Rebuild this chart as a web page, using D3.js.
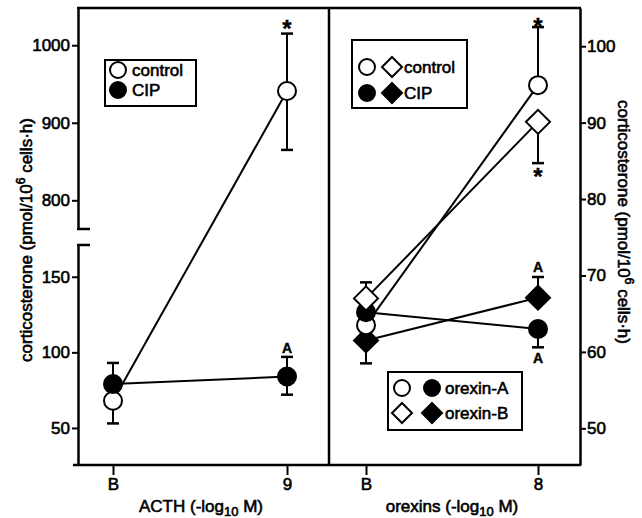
<!DOCTYPE html>
<html><head><meta charset="utf-8">
<script src="https://cdn.jsdelivr.net/npm/d3@7"></script>
<style>
body{margin:0;background:#fff;}
svg text{font-family:"Liberation Sans",Arial,sans-serif;fill:#000;}
</style></head>
<body><svg id="c" width="642" height="518"></svg>
<script>
// ---------- data ----------
const leftCats = ["B", "9"];
const rightCats = ["B", "8"];
const upperTicks = [800, 900, 1000];
const lowerTicks = [50, 100, 150];
const rightTicks = [50, 60, 70, 80, 90, 100];

// ACTH panel
const acthControl   = [68, 941];
const acthControlLo = [53, 865];
const acthControlHi = [null, 1015];
const acthCIP   = [79, 84];
const acthCIPLo = [null, 72];
const acthCIPHi = [93, 97];

// orexins panel
const oxAControl   = [63.5, 94.9];
const oxAControlLo = [null, null];
const oxAControlHi = [null, 102.5];
const oxBControl   = [67.0, 90.1];
const oxBControlLo = [null, 84.7];
const oxBControlHi = [69.1, null];
const oxACIP   = [65.2, 63.0];
const oxACIPLo = [null, 60.6];
const oxACIPHi = [null, null];
const oxBCIP   = [61.5, 67.1];
const oxBCIPLo = [58.5, null];
const oxBCIPHi = [null, 69.8];

// ---------- layout ----------
const svg = d3.select("#c");
const L = 78, MID = 329, R = 580, T = 8, B = 465;
const SW = 0.6; // text thickening (scanned look)

const xL = d3.scalePoint().domain(leftCats).range([113, 287]);
const xR = d3.scalePoint().domain(rightCats).range([366, 538]);
const yUp = d3.scaleLinear().domain([763, 1048]).range([229, T]);
const yLow = d3.scaleLinear().domain([25.5, 171]).range([B, 245]);
const yLeft = v => v > 500 ? yUp(v) : yLow(v);
const yR = d3.scaleLinear().domain([45.2, 105]).range([B, T]);

const FS = 17;
function styleAxis(g){
  g.selectAll("text").style("font-size", FS + "px").style("font-family", '"Liberation Sans",Arial,sans-serif')
   .attr("stroke", "#000").attr("stroke-width", SW);
  g.selectAll("line").attr("stroke-width", 2);
  g.selectAll("path.domain").attr("stroke-width", 2.5);
}
const fmt = d3.format("d");

// left axes (broken)
svg.append("g").attr("transform", `translate(${L},0)`)
  .call(d3.axisLeft(yUp).tickValues(upperTicks).tickFormat(fmt).tickSize(6).tickSizeOuter(0).tickPadding(2))
  .call(styleAxis);
svg.append("g").attr("transform", `translate(${L},0)`)
  .call(d3.axisLeft(yLow).tickValues(lowerTicks).tickFormat(fmt).tickSize(6).tickSizeOuter(0).tickPadding(2))
  .call(styleAxis);
// break marks
svg.append("line").attr("x1", L - 1).attr("x2", L + 12).attr("y1", 229).attr("y2", 229).attr("stroke", "#000").attr("stroke-width", 2.5);
svg.append("line").attr("x1", L - 1).attr("x2", L + 12).attr("y1", 245).attr("y2", 245).attr("stroke", "#000").attr("stroke-width", 2.5);

// right axis
svg.append("g").attr("transform", `translate(${R},0)`)
  .call(d3.axisRight(yR).tickValues(rightTicks).tickFormat(fmt).tickSize(6).tickSizeOuter(0).tickPadding(1))
  .call(styleAxis);

// bottom axes
const gxl = svg.append("g").attr("transform", `translate(0,${B})`)
  .call(d3.axisBottom(xL).tickSize(10).tickSizeOuter(0).tickPadding(3));
gxl.select("path.domain").remove();
styleAxis(gxl);
const gxr = svg.append("g").attr("transform", `translate(0,${B})`)
  .call(d3.axisBottom(xR).tickSize(10).tickSizeOuter(0).tickPadding(3));
gxr.select("path.domain").remove();
styleAxis(gxr);

// frame
const frame = svg.append("g").attr("stroke", "#000").attr("stroke-width", 2.5).attr("fill", "none");
frame.append("line").attr("x1", L - 1).attr("x2", R + 1).attr("y1", T).attr("y2", T);
frame.append("line").attr("x1", 73).attr("x2", R + 1).attr("y1", B).attr("y2", B);
frame.append("line").attr("x1", MID).attr("x2", MID).attr("y1", T).attr("y2", B);

// axis titles
function addTitle(x, y, rot, base){
  const t = svg.append("text").attr("transform", `translate(${x},${y}) rotate(${rot})`)
    .attr("text-anchor", "middle").style("font-size", FS + "px")
    .attr("stroke", "#000").attr("stroke-width", SW);
  base(t);
}
addTitle(32, 240, -90, t => {
  t.append("tspan").text("corticosterone (pmol/10");
  t.append("tspan").attr("dy", -7).style("font-size", "12px").text("6");
  t.append("tspan").attr("dy", 7).text(" cells·h)");
});
addTitle(618, 222, 90, t => {
  t.append("tspan").text("corticosterone (pmol/10");
  t.append("tspan").attr("dy", -7).style("font-size", "12px").text("6");
  t.append("tspan").attr("dy", 7).text(" cells·h)");
});
function xTitle(x, label){
  const t = svg.append("text").attr("x", x).attr("y", 512).attr("text-anchor", "middle")
    .style("font-size", FS + "px").attr("stroke", "#000").attr("stroke-width", SW);
  t.append("tspan").text(label + " (-log");
  t.append("tspan").attr("dy", 4).style("font-size", "13px").text("10");
  t.append("tspan").attr("dy", -4).text(" M)");
}
xTitle(201, "ACTH");
xTitle(452, "orexins");

// ---------- series ----------
const lineG = svg.append("g"), errG = svg.append("g"), markG = svg.append("g");
const R_CIRC = 9, R_DIA = 12;
function drawSeries(cats, vals, lo, hi, x, y, shape, filled){
  const pts = cats.map((c, i) => [x(c), y(vals[i])]);
  lineG.append("path").attr("d", d3.line()(pts)).attr("fill", "none").attr("stroke", "#000").attr("stroke-width", 2);
  cats.forEach((c, i) => {
    [lo[i], hi[i]].forEach(e => {
      if (e == null) return;
      errG.append("line").attr("x1", x(c)).attr("x2", x(c)).attr("y1", y(vals[i])).attr("y2", y(e))
        .attr("stroke", "#000").attr("stroke-width", 2);
      errG.append("line").attr("x1", x(c) - 6).attr("x2", x(c) + 6).attr("y1", y(e)).attr("y2", y(e))
        .attr("stroke", "#000").attr("stroke-width", 2.5);
    });
  });
  cats.forEach((c, i) => drawMarker(markG, x(c), y(vals[i]), shape, filled, shape === "circle" ? R_CIRC : R_DIA));
}
function drawMarker(g, cx, cy, shape, filled, r){
  if (shape === "circle") {
    g.append("circle").attr("cx", cx).attr("cy", cy).attr("r", r)
      .attr("fill", filled ? "#000" : "#fff").attr("stroke", "#000").attr("stroke-width", 2);
  } else {
    g.append("path").attr("d", `M${cx},${cy - r}L${cx + r},${cy}L${cx},${cy + r}L${cx - r},${cy}Z`)
      .attr("fill", filled ? "#000" : "#fff").attr("stroke", "#000").attr("stroke-width", 2);
  }
}

drawSeries(leftCats, acthControl, acthControlLo, acthControlHi, xL, yLeft, "circle", false);
drawSeries(leftCats, acthCIP, acthCIPLo, acthCIPHi, xL, yLeft, "circle", true);

drawSeries(rightCats, oxBCIP, oxBCIPLo, oxBCIPHi, xR, yR, "diamond", true);
drawSeries(rightCats, oxAControl, oxAControlLo, oxAControlHi, xR, yR, "circle", false);
drawSeries(rightCats, oxACIP, oxACIPLo, oxACIPHi, xR, yR, "circle", true);
drawSeries(rightCats, oxBControl, oxBControlLo, oxBControlHi, xR, yR, "diamond", false);

// annotations
function note(x, y, s, size){
  svg.append("text").attr("x", x).attr("y", y).attr("text-anchor", "middle")
    .style("font-size", (size || 14) + "px").style("font-weight", "bold")
    .attr("stroke", "#000").attr("stroke-width", 0.4).text(s);
}
note(xL("9"), yLeft(acthControlHi[1]) + 3, "*", 24);
note(xL("9"), yLeft(acthCIPHi[1]) - 4, "A");
note(xR("8"), yR(oxAControlHi[1]) + 8, "*", 24);
note(xR("8"), yR(oxBControlLo[1]) + 22, "*", 24);
note(xR("8"), yR(oxBCIPHi[1]) - 5, "A");
note(xR("8"), yR(oxACIPLo[1]) + 16, "A");

// legends
function legendBox(x, y, w, h){
  svg.append("rect").attr("x", x).attr("y", y).attr("width", w).attr("height", h)
    .attr("fill", "#fff").attr("stroke", "#000").attr("stroke-width", 2);
}
function legText(x, y, s){
  svg.append("text").attr("x", x).attr("y", y + 6).style("font-size", FS + "px")
    .attr("stroke", "#000").attr("stroke-width", SW).text(s);
}
legendBox(105, 60, 91, 46);
drawMarker(svg, 118, 70, "circle", false, 8);
drawMarker(svg, 118, 90, "circle", true, 8);
legText(132, 70, "control");
legText(132, 90, "CIP");

legendBox(352, 40, 115, 68);
drawMarker(svg, 367, 67, "circle", false, 8);
drawMarker(svg, 392, 67, "diamond", false, 10);
drawMarker(svg, 367, 93, "circle", true, 8);
drawMarker(svg, 392, 93, "diamond", true, 10);
legText(404, 67, "control");
legText(404, 93, "CIP");

legendBox(388, 372, 134, 58);
drawMarker(svg, 402, 388, "circle", false, 8);
drawMarker(svg, 432, 388, "circle", true, 8);
drawMarker(svg, 402, 413, "diamond", false, 10);
drawMarker(svg, 432, 413, "diamond", true, 10);
legText(445, 388, "orexin-A");
legText(445, 413, "orexin-B");
</script></body></html>
